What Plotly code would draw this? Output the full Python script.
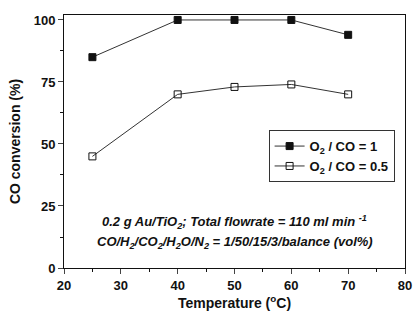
import plotly.graph_objects as go

temperature = [25, 40, 50, 60, 70]
conv_o2co_1 = [85, 100, 100, 100, 94]
conv_o2co_05 = [45, 70, 73, 74, 70]
x_ticks = [20, 30, 40, 50, 60, 70, 80]
y_ticks = [0, 25, 50, 75, 100]

font = "Liberation Sans, Arial, sans-serif"

fig = go.Figure()
fig.add_trace(go.Scatter(
    x=temperature, y=conv_o2co_1, mode="lines+markers",
    name="<b>O<sub>2</sub> / CO = 1</b>",
    line=dict(color="#333333", width=1),
    marker=dict(symbol="square", size=7, color="#111111", line=dict(color="#111111", width=1)),
))
fig.add_trace(go.Scatter(
    x=temperature, y=conv_o2co_05, mode="lines+markers",
    name="<b>O<sub>2</sub> / CO = 0.5</b>",
    line=dict(color="#333333", width=1),
    marker=dict(symbol="square-open", size=7, color="#111111", line=dict(width=1)),
))

fig.update_layout(
    width=414, height=318,
    margin=dict(l=64, r=9, t=15, b=50, autoexpand=False),
    paper_bgcolor="white", plot_bgcolor="white",
    font=dict(family=font, color="#111111", size=13),
    showlegend=True,
    legend=dict(
        x=0.60, y=0.545, xanchor="left", yanchor="top",
        bordercolor="#333333", borderwidth=1, bgcolor="white",
        font=dict(size=13, family=font), tracegroupgap=0,
        itemwidth=30,
    ),
    xaxis=dict(
        range=[20, 80], tickvals=x_ticks, ticks="outside", ticklen=5, tickwidth=1,
        tickfont=dict(size=13, family=font, weight="bold"),
        showline=True, linecolor="#111111", linewidth=1, mirror=True,
        showgrid=False, zeroline=False, automargin=False,
        minor=dict(dtick=5, ticklen=3, ticks="outside", tickcolor="#111111"),
        title=dict(text="<b>Temperature (<sup>o</sup>C)</b>", font=dict(size=14, family=font), standoff=6),
    ),
    yaxis=dict(
        range=[0, 102], tickvals=y_ticks, ticks="outside", ticklen=5, tickwidth=1,
        tickfont=dict(size=13, family=font, weight="bold"),
        showline=True, linecolor="#111111", linewidth=1, mirror=True,
        showgrid=False, zeroline=False, automargin=False,
        minor=dict(dtick=12.5, ticklen=3, ticks="outside", tickcolor="#111111"),
        title=dict(text="<b>CO conversion (%)</b>", font=dict(size=14, family=font), standoff=9),
    ),
)

fig.add_annotation(
    x=0.5, y=0.14, xref="paper", yref="paper", showarrow=False,
    text="<b><i>0.2 g Au/TiO<sub>2</sub>; Total flowrate = 110 ml min <sup>-1</sup></i></b>",
    font=dict(size=13, family=font),
)
fig.add_annotation(
    x=0.5, y=0.06, xref="paper", yref="paper", showarrow=False,
    text="<b><i>CO/H<sub>2</sub>/CO<sub>2</sub>/H<sub>2</sub>O/N<sub>2</sub> = 1/50/15/3/balance (vol%)</i></b>",
    font=dict(size=13, family=font),
)

fig.write_html(
    "out.html",
    config={"displayModeBar": False},
    post_script="document.body.style.margin='0';document.body.style.overflow='hidden';",
)
